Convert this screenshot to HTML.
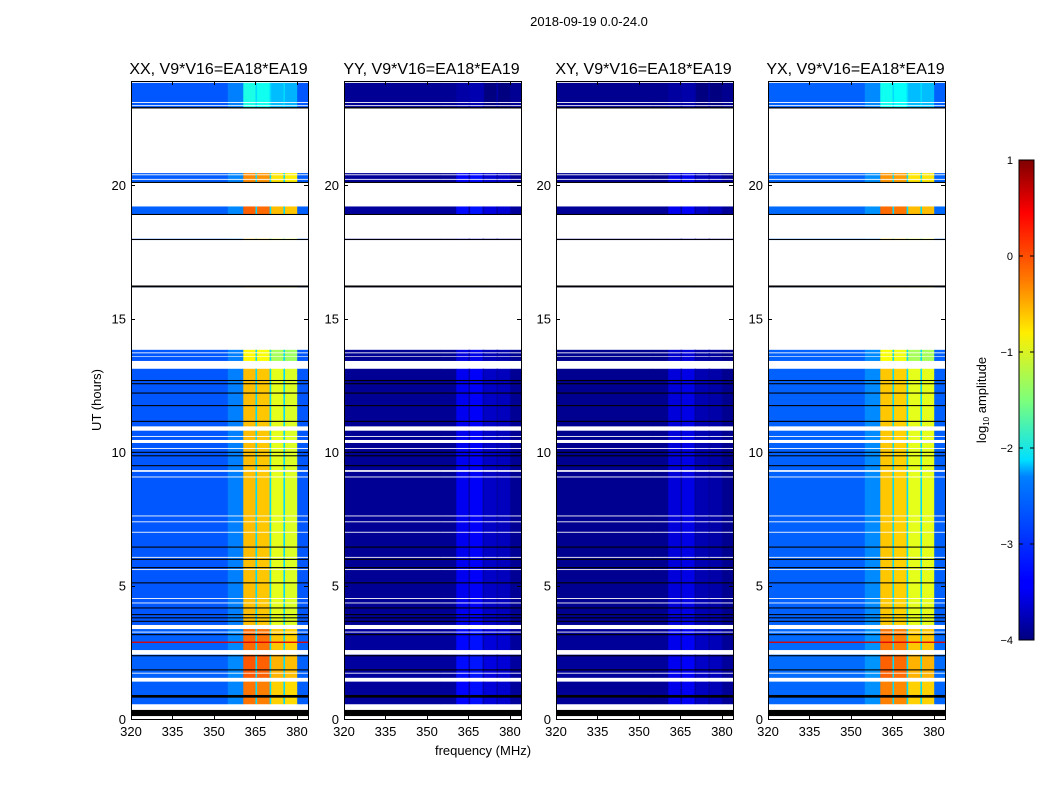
<!DOCTYPE html>
<html><head><meta charset="utf-8">
<style>
html,body{margin:0;padding:0;background:#fff;}
svg{display:block;font-family:"Liberation Sans",sans-serif;}
</style></head>
<body>
<svg id="chart" width="1050" height="800" viewBox="0 0 1050 800">
  <defs>
    <linearGradient id="jetgrad" x1="0" y1="1" x2="0" y2="0">
      <stop offset="0" stop-color="#00007f"/>
      <stop offset="0.11" stop-color="#0000ff"/>
      <stop offset="0.125" stop-color="#0000ff"/>
      <stop offset="0.34" stop-color="#0080ff"/>
      <stop offset="0.375" stop-color="#00e0ff"/>
      <stop offset="0.5" stop-color="#7dff7a"/>
      <stop offset="0.64" stop-color="#ffee00"/>
      <stop offset="0.75" stop-color="#ff7a00"/>
      <stop offset="0.89" stop-color="#ff0000"/>
      <stop offset="1" stop-color="#7f0000"/>
    </linearGradient>
  </defs>
  <text x="589" y="26" font-size="13" text-anchor="middle">2018-09-19 0.0-24.0</text>
  <text x="0" y="0" font-size="13" text-anchor="middle" transform="translate(101,400) rotate(-90)">UT (hours)</text>
  <text x="483" y="755" font-size="13" text-anchor="middle">frequency (MHz)</text>
  <g id="panels"></g>
  <g id="colorbar">
    <rect x="1019" y="160" width="15" height="480" fill="url(#jetgrad)" stroke="#000" stroke-width="1"/>
    <text x="0" y="0" font-size="13" text-anchor="middle" transform="translate(986,400) rotate(-90)">log<tspan font-size="8" dy="3">10</tspan><tspan dy="-3"> amplitude</tspan></text>
  </g>
</svg>
<script>
// ---- data ----
const panelNames = ['XX','YY','XY','YX'];
const panelTitles = ['XX, V9*V16=EA18*EA19','YY, V9*V16=EA18*EA19','XY, V9*V16=EA18*EA19','YX, V9*V16=EA18*EA19'];
const freqEdges = [320, 355, 360.6, 365.3, 370.4, 375.4, 380.1, 384];
const bandXX = [-2.95, -2.75, -0.55, -0.6, -1.0, -1.05, -2.95];
const bandYY = [-3.9, -3.9, -3.45, -3.4, -3.65, -3.7, -3.9];
const bandXY = [-3.92, -3.92, -3.55, -3.5, -3.75, -3.8, -3.92];
const bandYX = [-2.9, -2.7, -0.6, -0.65, -1.0, -1.0, -2.9];
const dividerFreqs = [365.3, 370.4, 375.4];
const dividerXX = -2.3, dividerYY = -3.8, dividerXY = -3.85, dividerYX = -2.3;
const dataSpans = [[0.56,13.83],[16.18,16.22],[17.95,17.99],[18.9,19.2],[20.1,20.45],[22.9,23.83]];
const whiteGaps = [[13.12,13.42],[13.57,13.6],[13.7,13.74],[10.8,10.97],[10.57,10.61],[10.34,10.46],[10.12,10.16],[9.26,9.33],[9.05,9.09],
  [7.59,7.63],[7.37,7.41],[6.98,7.02],[6.04,6.08],[5.58,5.62],[4.5,4.54],[4.33,4.37],[3.37,3.53],[3.24,3.28],[2.41,2.59],[1.7,1.74],[1.4,1.55],
  [20.37,20.41],[20.2,20.24],[23.08,23.12],[22.96,23.0]];
const boostStart = [0.56, 1.55, 2.59, 13.42, 18.9, 20.1, 22.9];
const boostEnd   = [1.4, 2.41, 3.37, 13.83, 19.2, 20.45, 23.83];
const boostVal   = [0.35, 0.5, 0.4, -0.3, 0.45, 0.25, -1.45];
const blackRows = [[0.11,0.34],[0.8,0.9],[1.82,1.86],[2.35,2.39],[3.14,3.18],[3.64,3.68],[3.77,3.81],[3.89,3.93],[4.14,4.18],[5.08,5.12],
  [5.65,5.69],[5.96,6.0],[6.42,6.46],[9.47,9.51],[9.84,9.88],[9.97,10.01],[11.13,11.17],[11.72,11.76],[12.19,12.23],[12.54,12.58],[12.66,12.7],
  [16.17,16.24],[17.95,17.98],[18.88,18.92],[20.08,20.12],[22.87,22.92]];
const redRows = [[2.85,2.9]];
const xTicks = [320,335,350,365,380];
const yTicks = [0,5,10,15,20];
const cbTicks = [-4,-3,-2,-1,0,1];

// ---- layout ----
const panelLeft = [131,344,556,768];
const panelW = 177, plotTop = 81, plotBottom = 719;
const xmin = 320, xmax = 384, ymin = 0, ymax = 23.9;
const vmin = -4, vmax = 1;
const NS = 'http://www.w3.org/2000/svg';

function jet(v){
  let t = (v - vmin)/(vmax - vmin); t = Math.max(0, Math.min(1, t));
  const r = Math.max(0, Math.min(1, 1.5 - Math.abs(4*t - 3)));
  const g = Math.max(0, Math.min(1, 1.5 - Math.abs(4*t - 2)));
  const b = Math.max(0, Math.min(1, 1.5 - Math.abs(4*t - 1)));
  return 'rgb(' + Math.round(r*255) + ',' + Math.round(g*255) + ',' + Math.round(b*255) + ')';
}
function mk(tag, attrs, parent){
  const e = document.createElementNS(NS, tag);
  for (const k in attrs) e.setAttribute(k, attrs[k]);
  parent.appendChild(e);
  return e;
}
const panelsG = document.getElementById('panels');
const bandSets = [bandXX, bandYY, bandXY, bandYX];
const divVals = [dividerXX, dividerYY, dividerXY, dividerYX];
const boostScale = [1, 0.25, 0.2, 1];

panelNames.forEach((pn, pi) => {
  const L = panelLeft[pi];
  const xs = f => L + (f - xmin) / (xmax - xmin) * panelW;
  const ys = h => plotBottom - (h - ymin) / (ymax - ymin) * (plotBottom - plotTop);
  const g = mk('g', {}, panelsG);
  
  
  let bps = [];
  dataSpans.forEach(s => bps.push(s[0], s[1]));
  whiteGaps.forEach(s => bps.push(s[0], s[1]));
  boostStart.forEach(b => bps.push(b));
  boostEnd.forEach(b => bps.push(b));
  bps = Array.from(new Set(bps)).sort((a,b) => a-b);
  for (let i = 0; i < bps.length - 1; i++){
    const a = bps[i], b = bps[i+1], m = (a+b)/2;
    if (!dataSpans.some(s => m > s[0] && m < s[1])) continue;
    if (whiteGaps.some(s => m > s[0] && m < s[1])) continue;
    let boost = 0;
    for (let k = 0; k < boostStart.length; k++) if (m > boostStart[k] && m < boostEnd[k]) boost = boostVal[k];
    const bands = bandSets[pi];
    for (let j = 0; j < bands.length; j++){
      const bright = j >= 2 && j <= 5;
      const v = bands[j] + (bright ? boost * boostScale[pi] : (boost < 0 ? 0 : boost*0.1));
      const r = mk('rect', {x: xs(freqEdges[j]), y: ys(b), width: xs(freqEdges[j+1]) - xs(freqEdges[j]) + 0.3, height: ys(a) - ys(b) + 0.2, fill: jet(v)}, g);
      
      
    }
    dividerFreqs.forEach(df => {
      const d = mk('rect', {x: xs(df) - 0.8, y: ys(b), width: 1.6, height: ys(a) - ys(b), fill: jet(divVals[pi])}, g);
      
      
    });
  }
  blackRows.forEach(br => {
    const r = mk('rect', {x: L, y: ys(br[1]), width: panelW, height: Math.max(1, ys(br[0]) - ys(br[1])), fill: '#000'}, g);
    
    
  });
  if (pn === 'XX' || pn === 'YX'){
    redRows.forEach(rr => {
      const r = mk('rect', {x: L, y: ys(rr[1]), width: panelW, height: Math.max(1.2, ys(rr[0]) - ys(rr[1])), fill: '#e00000'}, g);
      
      
    });
  }
  const fr = mk('rect', {x: L + 0.5, y: plotTop + 0.5, width: panelW, height: plotBottom - plotTop, fill: 'none', stroke: '#000', 'stroke-width': 1}, g);
  
  
  const tt = mk('text', {x: L + panelW/2 - 1, y: 74, 'font-size': 16, 'text-anchor': 'middle'}, g);
  tt.textContent = panelTitles[pi];
  
  
  xTicks.forEach(t => {
    const x = Math.round(xs(t)) + 0.5;
    mk('line', {x1: x, x2: x, y1: plotBottom, y2: plotBottom - 4, stroke: '#000'}, g);
    mk('line', {x1: x, x2: x, y1: plotTop, y2: plotTop + 4, stroke: '#000'}, g);
    const lb = mk('text', {x: xs(t), y: plotBottom + 17, 'font-size': 13, 'text-anchor': 'middle'}, g);
    lb.textContent = t;
    
    
  });
  yTicks.forEach(t => {
    const y = Math.round(ys(t)) + 0.5;
    mk('line', {x1: L, x2: L + 4, y1: y, y2: y, stroke: '#000'}, g);
    mk('line', {x1: L + panelW, x2: L + panelW - 4, y1: y, y2: y, stroke: '#000'}, g);
    const lb = mk('text', {x: L - 5, y: ys(t) + 5, 'font-size': 13, 'text-anchor': 'end'}, g);
    lb.textContent = t;
    
    
  });
});

const cb = document.getElementById('colorbar');
cbTicks.forEach(t => {
  const y = 640 - (t - vmin) / (vmax - vmin) * 480;
  mk('line', {x1: 1019, x2: 1023, y1: y, y2: y, stroke: '#000'}, cb);
  mk('line', {x1: 1034, x2: 1030, y1: y, y2: y, stroke: '#000'}, cb);
  const lb = mk('text', {x: 1013, y: y + 4, 'font-size': 11, 'text-anchor': 'end'}, cb);
  lb.textContent = t < 0 ? '\u2212' + (-t) : String(t);
  
  
});
</script>
</body></html>
